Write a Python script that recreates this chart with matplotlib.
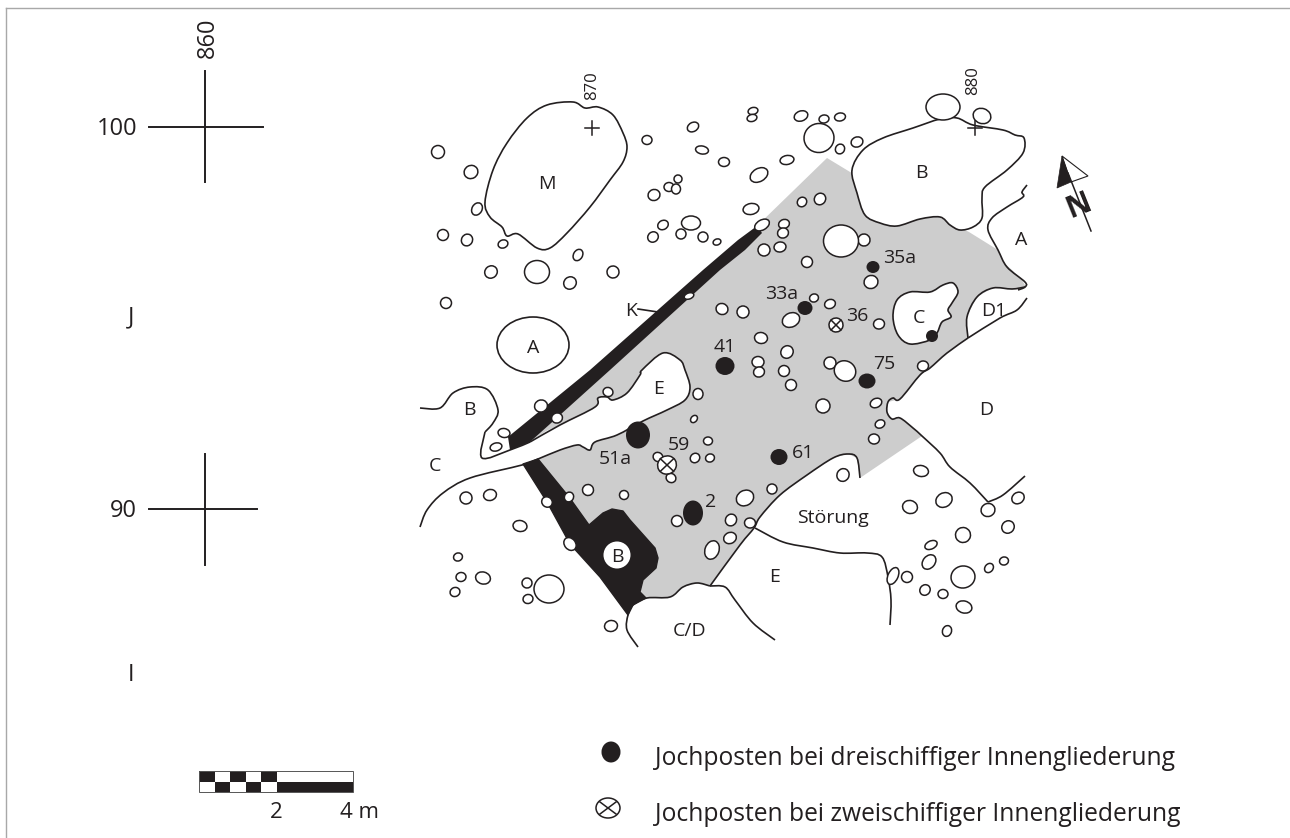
import matplotlib
matplotlib.use("Agg")
import matplotlib.pyplot as plt
from matplotlib.patches import Ellipse, Polygon, PathPatch, Rectangle
from matplotlib.path import Path

plt.rcParams['font.family'] = ['Open Sans', 'DejaVu Sans']

BLACK = '#231f20'
GREY = '#cdcdcd'

# open post-holes read from the plan
post_x = [438,471,477,443,467,503,491,537,578,570,613,446,647,693,702,724,654,669,676,678,
          691,663,653,681,703,717,751,753,752,801,824,840,819,840,857,787,759,762,784,783,
          802,820,764,780,807,864,871,814,830,791,722,743,879,761,787,758,759,784,791,830,
          845,923,823,876,880,874,772,843,745,750,921,944,910,988,1018,1008,963,931,929,907,
          893,963,989,1004,925,943,964,947,698,694,708,695,710,658,671,608,541,557,504,496,
          588,624,569,547,466,490,520,570,458,461,483,455,527,528,549,611,677,731,730,712,689,943,982,841]
post_y = [152,172,209,235,240,244,272,272,255,283,272,303,140,127,150,162,195,187,189,179,
          223,225,237,234,237,242,209,111,118,116,119,117,138,149,142,160,175,225,224,233,
          202,199,250,247,262,240,282,298,304,320,309,312,324,338,352,362,372,371,385,363,
          371,366,406,403,424,439,489,475,498,523,471,500,507,510,498,527,535,545,562,577,
          576,577,568,561,590,594,607,631,394,419,441,458,458,457,478,392,406,418,433,447,
          490,495,497,502,498,495,526,544,557,577,578,592,583,599,589,626,521,520,538,550,296,107,116,241]
post_w = [13,14,13,11,12,10,13,25,12,13,12,11,10,12,13,11,12,10,9,8,
          19,11,11,10,10,8,16,10,10,14,10,11,29,10,12,14,19,16,11,11,
          10,12,12,12,11,12,14,9,11,18,12,12,11,13,13,12,11,11,11,12,
          22,11,14,12,10,11,10,13,18,11,15,17,15,14,13,13,15,13,16,11,
          18,22,10,9,11,10,16,11,10,8,9,10,9,10,10,10,13,11,12,12,
          11,9,10,11,12,13,14,14,9,10,15,10,10,10,30,13,11,12,13,19,10,34,18,35]
post_h = [13,13,10,11,11,8,12,23,9,12,12,11,9,9,8,9,11,9,10,8,
          14,9,10,10,10,6,11,7,7,10,8,8,30,9,10,9,13,10,9,10,
          9,11,12,10,11,12,13,8,9,14,11,12,10,11,12,11,10,11,11,12,
          20,10,14,9,8,10,10,12,15,10,11,14,13,13,11,12,15,8,12,11,
          10,24,8,8,10,9,12,9,11,6,8,9,8,9,9,9,12,10,9,8,
          11,9,9,10,12,11,11,11,8,9,12,9,10,9,28,11,11,11,11,14,6,26,15,32]
post_a = [0,-30,-60,0,-60,-20,-40,0,-60,-40,-30,0,0,-30,10,0,-20,0,0,-60,
          0,-30,-40,-50,0,-20,-10,-15,-15,-20,-10,-10,80,-60,-20,-10,-30,-30,-20,-20,
          -50,-50,0,-10,-50,20,-20,-20,-20,-25,20,-45,-10,10,-50,0,-20,-50,0,-30,
          30,-10,0,-25,-25,5,0,-60,-30,10,10,-30,15,-20,-35,-45,-30,-25,-50,0,
          -65,80,-50,-15,-50,0,15,-70,0,-50,0,-45,-20,30,30,20,-20,-20,10,-15,
          -30,-40,-60,40,-35,-15,10,50,-20,-10,15,-25,20,-15,0,-10,0,-60,-25,-70,-20,0,20,0]

# filled yoke posts
filled_x = [873,805,932,725,867,779,638,693]
filled_y = [267,308,336,366,381,457,435,513]
filled_w = [13,15,12,19,17,17,24,20]
filled_h = [12,14,12,18,15,16,27,25]

# crossed yoke posts
cross_x = [836,667]
cross_y = [325,465]
cross_w = [14,19]
cross_h = [14,18]

# outlines of the pit features
M_x = [485,493,507,527,547,573,585,598,613,623,627,623,610,590,567,550,537,518,507,502,490]
M_y = [202,170,143,118,105,102,108,107,115,133,147,162,180,207,233,248,248,234,236,227,217]
B_top_x = [852,863,883,913,940,957,973,1003,1015,1024,1023,1007,985,982,982,973,960,950,940,920,897,880,865,857]
B_top_y = [170,150,138,128,119,118,125,130,135,138,153,170,187,198,218,227,230,225,217,219,226,223,215,193]
C_x = [893,897,910,930,943,953,958,952,948,951,942,937,930,910,898]
C_y = [317,300,292,292,285,283,292,303,310,317,322,333,340,344,335]
D1_x = [1027,1017,1000,968,967,977,993,1012,1025]
D1_y = [298,310,318,338,317,297,288,289,287]
E_x = [530,560,595,598,607,613,627,640,642,663,680,685,690,685,667,643,617,595,590,583,577,560,538,522,470,443,427,420]
E_y = [442,425,407,398,397,400,393,375,370,353,360,370,387,400,410,421,435,442,450,447,445,450,459,465,478,493,510,527]
A_center = (533, 345)
A_size = (72, 56)

# open lines
B_left_x = [420,440,453,470,488,498,493,485]
B_left_y = [408,408,393,387,390,410,423,432]
B_left2_x = [485,482,510,530]
B_left2_y = [432,458,450,442]
A_line_x = [1027,1022,1023,1007,992,988,998,1007,1025,1025,1018]
A_line_y = [185,192,197,207,218,230,250,267,282,287,290]
SE_x = [968,947,930,920,900,893,888,887,892,900,913,922,940,950,970,988]
SE_y = [338,353,368,375,399,398,402,412,419,418,428,436,453,467,483,502]
SE2_x = [988,1003,1025]
SE2_y = [502,495,476]
Stoer_x = [860,857,848,833,807,780,760,754,740,710]
Stoer_y = [478,458,454,458,475,495,517,528,545,586]
CDtop_x = [710,697,683,670,647,633,628,627,638]
CDtop_y = [586,583,587,597,598,605,615,630,647]
E_low_x = [755,783,813,840,867,882,888,891,890]
E_low_y = [528,542,548,553,553,557,577,600,625]
CD_x = [710,725,735,753,775]
CD_y = [586,587,600,623,640]

# grey floor
floor_x = [827,860,969,998,1003,1012,1022,1026,1024,1012,993,977,967,968,947,930,920,900,888,887,892,900,913,922,
           860,857,848,833,807,780,760,754,740,710,697,683,670,647,600,538,530,757]
floor_y = [158,178,232,250,262,270,280,287,290,289,288,297,317,338,353,368,375,399,402,412,419,418,428,436,
           478,458,454,458,475,495,517,528,545,586,583,587,597,598,560,459,442,226]

# black walls
wall_K_x = [757,738,703,590,508,510,530,610,720,745,762]
wall_K_y = [226,240,270,370,437,450,442,370,270,250,233]
wall_S_x = [523,538,569,589,603,612,623,630,655,658,656,643,640,646,633,628,600,570,547]
wall_S_y = [464,459,497,525,513,509,511,520,548,558,568,580,592,598,605,615,577,544,502]

# labels
map_labels = ['M','A','B','C','E','K','41','51a','59','2','B','C/D','E','Störung','D','D1','C','75','36','33a','35a','B','A','61']
map_label_x = [547,533,469,435,659,631,725,615,679,711,617,690,775,833,986,994,919,884,857,782,900,921,1021,803]
map_label_y = [182,346,408,464,387,309,345,457,443,500,555,629,575,516,408,309,316,362,314,292,256,171,238,451]

grid_h_labels = ['100','90','J','I']
grid_h_x = [117,123,131,131]
grid_h_y = [127,509,315,673]
legend_texts = ['Jochposten bei dreischiffiger Innengliederung','Jochposten bei zweischiffiger Innengliederung']
legend_y = [756,812]
scale_cells = [0,1,2,3,4]

fig = plt.figure(figsize=(12.9, 8.38), dpi=100)
ax = fig.add_axes([0, 0, 1, 1])
ax.set_xlim(0, 1290)
ax.set_ylim(838, 0)
ax.axis('off')


def smooth(xs, ys, closed=True):
    pts = list(zip(xs, ys))
    n = len(pts)
    def P(i):
        if closed:
            return pts[i % n]
        return pts[min(max(i, 0), n-1)]
    verts, codes = [pts[0]], [Path.MOVETO]
    for i in range(n if closed else n-1):
        p0, p1, p2, p3 = P(i-1), P(i), P(i+1), P(i+2)
        verts += [(p1[0]+(p2[0]-p0[0])/6, p1[1]+(p2[1]-p0[1])/6),
                  (p2[0]-(p3[0]-p1[0])/6, p2[1]-(p3[1]-p1[1])/6), p2]
        codes += [Path.CURVE4]*3
    return Path(verts, codes)


def label(x, y, s, size, **kw):
    ax.text(x, y + 0.14*size, s, fontsize=size, ha=kw.pop('ha', 'center'), va='center', color=BLACK, **kw)


LW = 1.2
PW = 1.1
FRAME = '#a8a8a8'
ax.plot([6, 1290], [8, 8], color=FRAME, lw=1.0, zorder=1)
ax.plot([6, 6], [8, 838], color=FRAME, lw=1.0, zorder=1)

ax.add_patch(Polygon(list(zip(floor_x, floor_y)), closed=True, fc=GREY, ec='none', zorder=2))

for xs, ys in [(M_x, M_y), (B_top_x, B_top_y), (C_x, C_y)]:
    ax.add_patch(PathPatch(smooth(xs, ys), fc='white', ec=BLACK, lw=LW, zorder=3))
ax.add_patch(Polygon(list(zip(D1_x, D1_y)), closed=True, fc='white', ec='none', zorder=3))
ax.add_patch(PathPatch(smooth(D1_x[:4], D1_y[:4], closed=False), fc='none', ec=BLACK, lw=LW, zorder=4))
ax.add_patch(PathPatch(smooth(D1_x[3:], D1_y[3:], closed=False), fc='none', ec=BLACK, lw=LW, zorder=4))
ax.add_patch(PathPatch(smooth(E_x, E_y), fc='white', ec='none', zorder=3))
ax.add_patch(PathPatch(smooth(E_x, E_y, closed=False), fc='none', ec=BLACK, lw=LW, zorder=4))
ax.add_patch(Ellipse(A_center, A_size[0], A_size[1], fc='white', ec=BLACK, lw=LW, zorder=3))

for xs, ys in [(B_left_x, B_left_y), (B_left2_x, B_left2_y), (A_line_x, A_line_y), (SE_x, SE_y), (SE2_x, SE2_y),
               (Stoer_x, Stoer_y), (CDtop_x, CDtop_y), (E_low_x, E_low_y), (CD_x, CD_y)]:
    ax.add_patch(PathPatch(smooth(xs, ys, closed=False), fc='none', ec=BLACK, lw=LW, zorder=4))

ax.add_patch(Polygon(list(zip(wall_K_x, wall_K_y)), closed=True, fc=BLACK, ec='none', zorder=5))
ax.add_patch(PathPatch(smooth(wall_S_x[2:14], wall_S_y[2:14], closed=False), fc='none', ec='none'))
ax.add_patch(Polygon(list(zip(wall_S_x, wall_S_y)), closed=True, fc=BLACK, ec=BLACK, lw=1.0, zorder=5, joinstyle='round'))
ax.add_patch(Ellipse((617, 555), 27, 27, fc='white', ec='none', zorder=6))
ax.plot([638, 658], [309, 312], color=BLACK, lw=LW, zorder=6)

for x, y, w, h, a in zip(post_x, post_y, post_w, post_h, post_a):
    ax.add_patch(Ellipse((x, y), w, h, angle=a, fc='white', ec=BLACK, lw=PW, zorder=7))
for x, y, w, h in zip(filled_x, filled_y, filled_w, filled_h):
    ax.add_patch(Ellipse((x, y), w, h, fc=BLACK, ec='none', zorder=8))


def crossed(x, y, w, h):
    ax.add_patch(Ellipse((x, y), w, h, angle=-30, fc='white', ec=BLACK, lw=PW, zorder=8))
    dx, dy = w * 0.35, h * 0.35
    ax.plot([x-dx, x+dx], [y-dy, y+dy], color=BLACK, lw=PW, zorder=9)
    ax.plot([x-dx, x+dx], [y+dy, y-dy], color=BLACK, lw=PW, zorder=9)


for x, y, w, h in zip(cross_x, cross_y, cross_w, cross_h):
    crossed(x, y, w, h)

# grid crosses
CW = 1.4
ax.plot([149, 263], [127, 127], color=BLACK, lw=CW)
ax.plot([205, 205], [71, 182], color=BLACK, lw=CW)
ax.plot([149, 257], [509, 509], color=BLACK, lw=CW)
ax.plot([205, 205], [454, 565], color=BLACK, lw=CW)
for x, y in [(592, 128), (975, 128)]:
    ax.plot([x-7, x+7], [y, y], color=BLACK, lw=1.1, zorder=9)
    ax.plot([x, x], [y-7, y+7], color=BLACK, lw=1.1, zorder=9)

# north arrow
ax.add_patch(Polygon([(1062, 156), (1088, 176), (1071, 182)], closed=True, fc='white', ec=BLACK, lw=0.8, zorder=4))
ax.add_patch(Polygon([(1062, 156), (1057, 188), (1071, 182)], closed=True, fc=BLACK, ec=BLACK, lw=0.5, zorder=5))
ax.plot([1068, 1091], [173, 231], color=BLACK, lw=1.1, zorder=5)
ax.text(1079, 206, 'N', fontsize=22, fontweight='bold', rotation=22, ha='center', va='center',
        color=BLACK, zorder=6, rotation_mode='anchor')

# scale bar
for c in scale_cells:
    x = 199 + c * 15.6
    ax.add_patch(Rectangle((x, 771), 15.6, 10.5, fc=BLACK if c % 2 == 0 else 'white', ec='none', zorder=3))
    ax.add_patch(Rectangle((x, 781.5), 15.6, 10.5, fc='white' if c % 2 == 0 else BLACK, ec='none', zorder=3))
ax.add_patch(Rectangle((277, 781.5), 76, 10.5, fc=BLACK, ec='none', zorder=3))
ax.add_patch(Rectangle((199, 771), 154, 21, fc='none', ec='#555555', lw=0.7, zorder=4))
label(276, 810, '2', 16)
label(359, 810, '4 m', 16)

# text
for t, x, y in zip(map_labels, map_label_x, map_label_y):
    label(x, y, t, 14, zorder=10)
for t, x, y in zip(grid_h_labels, grid_h_x, grid_h_y):
    label(x, y, t, 17)
ax.text(207.5, 37.5, '860', fontsize=17, rotation=90, ha='center', va='center', color=BLACK)
ax.text(592, 86, '870', fontsize=12, rotation=90, ha='center', va='center', color=BLACK)
ax.text(973, 81, '880', fontsize=12, rotation=90, ha='center', va='center', color=BLACK)

# legend
ax.add_patch(Ellipse((611, 752), 19, 21, fc=BLACK, ec='none'))
ax.add_patch(Ellipse((608, 808), 24, 20, fc='white', ec=BLACK, lw=PW))
ax.plot([600, 616], [802, 814], color=BLACK, lw=PW)
ax.plot([600, 616], [814, 802], color=BLACK, lw=PW)
for t, y in zip(legend_texts, legend_y):
    label(655, y, t, 17.7, ha='left')

fig.savefig('out.png', dpi=100, facecolor='white')
